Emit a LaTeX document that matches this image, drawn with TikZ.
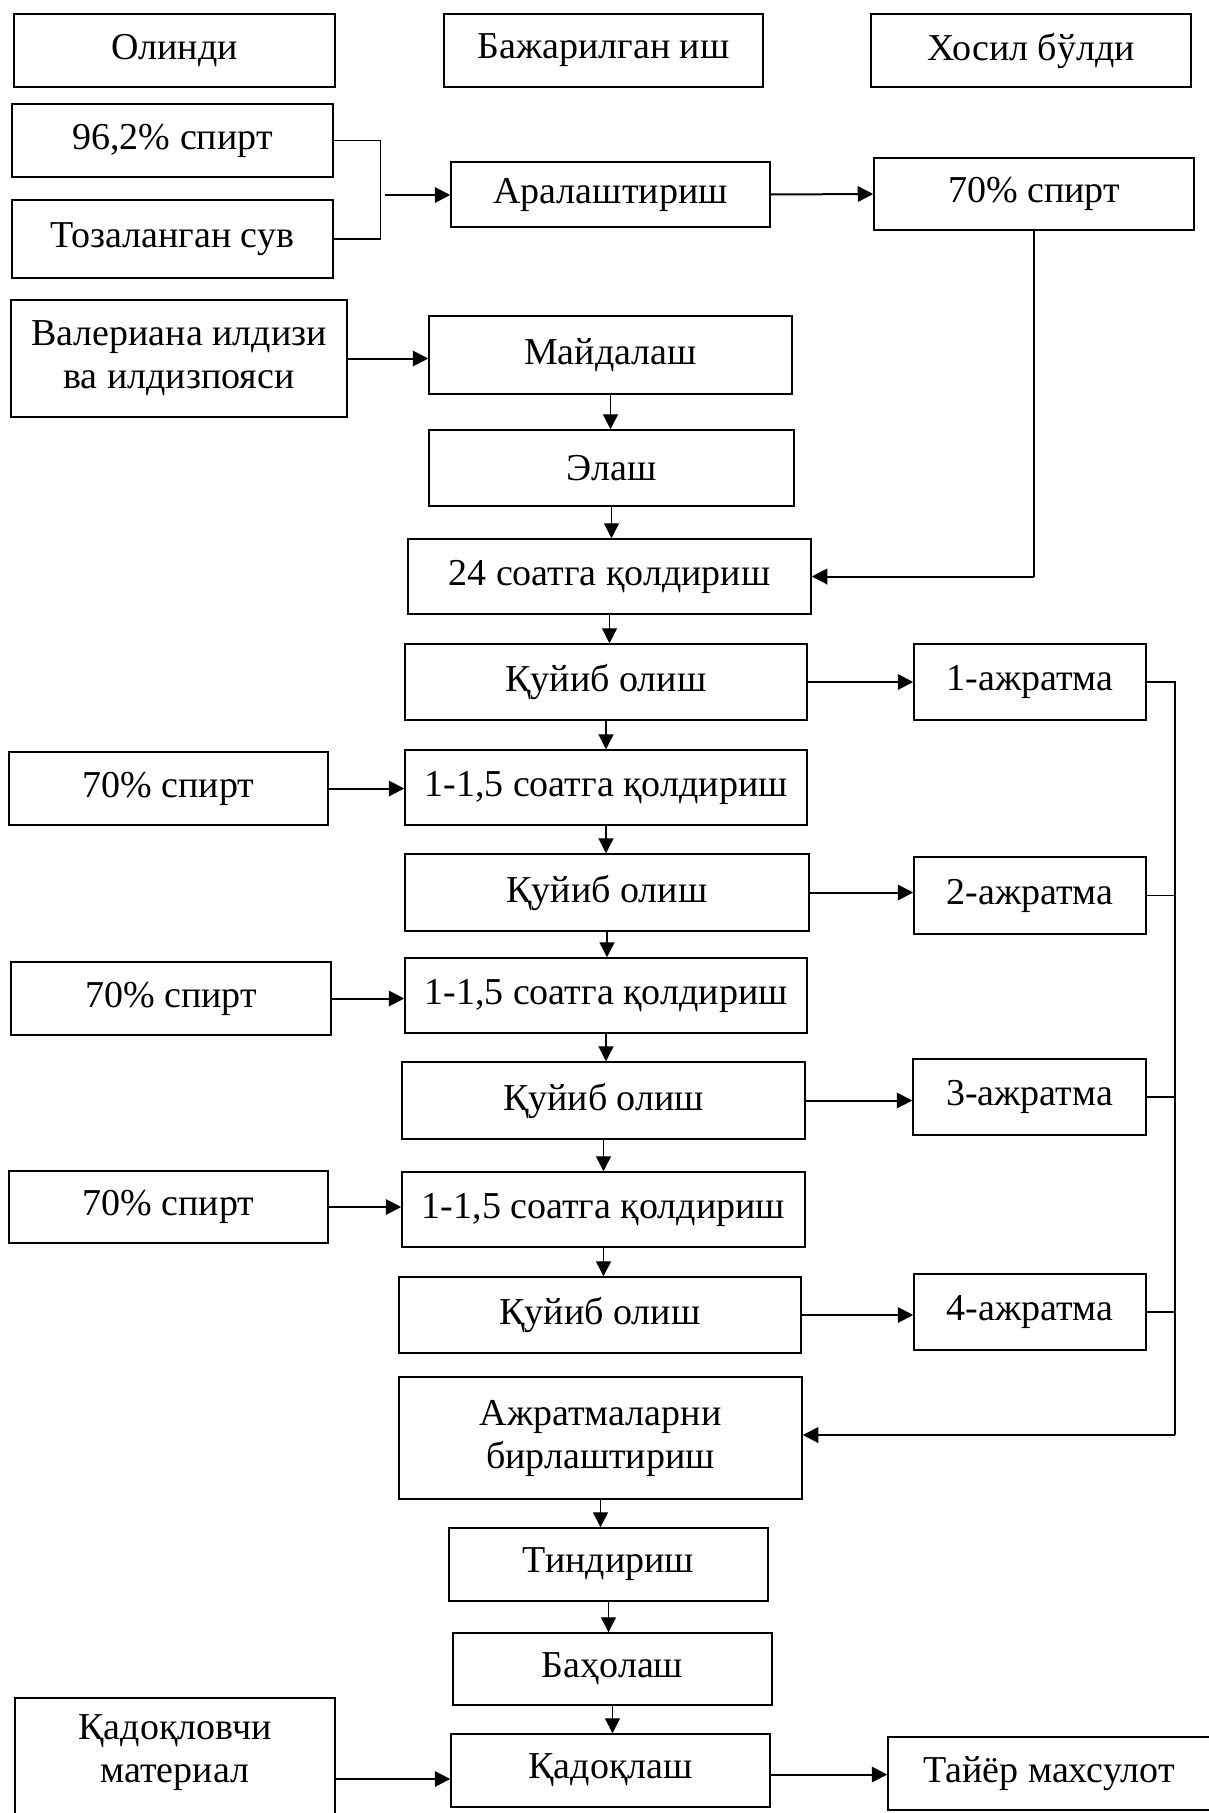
\documentclass[tikz,border=0pt]{standalone}
\usepackage{fontspec}
\setmainfont{Liberation Serif}
\usetikzlibrary{arrows.meta}
\newcommand\boxfont{\fontsize{15.2pt}{17.2pt}\selectfont}
\begin{document}
\begin{tikzpicture}[x=0.4pt, y=-0.4pt,
  box/.style={draw, line width=0.6pt, inner sep=0pt, align=center, font=\boxfont},
  arr/.style={-{Triangle[length=6pt,width=6pt]}, line width=0.55pt},
  harr/.style={-{Triangle[length=6.2pt,width=6.2pt]}, line width=0.8pt},
  ln/.style={line width=0.55pt}]
\useasboundingbox (0,0) rectangle (1208,1813);

% column headings
\node[box, minimum width=128.4pt, minimum height=29.2pt] (h1) at (174.5,50.5) {Олинди};
\node[box, minimum width=127.6pt, minimum height=29.2pt] (h2) at (603.5,50.5) {Бажарилган иш};
\node[box, minimum width=128pt,   minimum height=29.2pt] (h3) at (1031,50.5) {Хосил бўлди};

% preparing the 70% alcohol
\node[box, minimum width=128.4pt, minimum height=29.2pt] (a1) at (172.5,140.5) {96,2\% спирт};
\node[box, minimum width=128.4pt, minimum height=31.2pt] (a2) at (172.5,239) {Тозаланган сув};
\node[box, minimum width=127.6pt, minimum height=26pt] (mix) at (610.5,194.5) {Аралаштириш};
\node[box, minimum width=128pt, minimum height=28.8pt] (s70) at (1034,194) {70\% спирт};

% raw material line
\node[box, minimum width=134.4pt, minimum height=46.8pt] (val) at (179,358.5) {Валериана илдизи\\ва илдизпояси};
\node[box, minimum width=145.2pt, minimum height=31.2pt] (grind) at (610.5,355) {Майдалаш};
\node[box, minimum width=146pt, minimum height=30.4pt] (sieve) at (611.5,468) {Элаш};
\node[box, minimum width=161.2pt, minimum height=30pt] (st24) at (609.5,576.5) {24 соатга қолдириш};

% extraction cycles
\node[box, minimum width=160.8pt, minimum height=30.4pt] (q1) at (606,682) {Қуйиб олиш};
\node[box, minimum width=92.8pt, minimum height=30.4pt] (e1) at (1030,682) {1-ажратма};
\node[box, minimum width=127.6pt, minimum height=29.2pt] (r1) at (168.5,788.5) {70\% спирт};
\node[box, minimum width=160.8pt, minimum height=30pt] (w1) at (606,787.5) {1-1,5 соатга қолдириш};
\node[box, minimum width=161.6pt, minimum height=30.8pt] (q2) at (607,892.5) {Қуйиб олиш};
\node[box, minimum width=92.8pt, minimum height=30.8pt] (e2) at (1030,895.5) {2-ажратма};
\node[box, minimum width=128pt, minimum height=29.2pt] (r2) at (171,998.5) {70\% спирт};
\node[box, minimum width=160.8pt, minimum height=30pt] (w2) at (606,995.5) {1-1,5 соатга қолдириш};
\node[box, minimum width=161.2pt, minimum height=30.8pt] (q3) at (603.5,1100.5) {Қуйиб олиш};
\node[box, minimum width=93.2pt, minimum height=30.4pt] (e3) at (1029.5,1097) {3-ажратма};
\node[box, minimum width=127.6pt, minimum height=28.8pt] (r3) at (168.5,1207) {70\% спирт};
\node[box, minimum width=161.2pt, minimum height=30pt] (w3) at (603.5,1209.5) {1-1,5 соатга қолдириш};
\node[box, minimum width=160.8pt, minimum height=30.4pt] (q4) at (600,1315) {Қуйиб олиш};
\node[box, minimum width=92.8pt, minimum height=30.4pt] (e4) at (1030,1312) {4-ажратма};

% finishing
\node[box, minimum width=161.2pt, minimum height=48.8pt] (comb) at (600.5,1438) {Ажратмаларни\\бирлаштириш};
\node[box, minimum width=127.6pt, minimum height=29.2pt] (settle) at (608.5,1564.5) {Тиндириш};
\node[box, minimum width=127.6pt, minimum height=28.8pt] (eval) at (612.5,1669) {Баҳолаш};
\node[box, minimum width=127.6pt, minimum height=29.2pt] (pack) at (610.5,1770.5) {Қадоқлаш};
\node[box, minimum width=128pt, minimum height=56pt, anchor=north, text depth=15.3pt] (pm) at (175,1697) {Қадоқловчи\\материал};
\node[box, minimum width=128.8pt, minimum height=29.2pt] (prod) at (1049,1773.5) {Тайёр махсулот};

% mixing the alcohol
\coordinate (j1) at (385,195);
\draw[ln] (a1.east) -- ++(47,0) |- (a2.east);
\draw[harr] (j1) -- (j1 -| mix.west);
\draw[harr] (mix.east) -- (s70.west);
\coordinate (fb) at (s70.south |- st24.east);
\draw[ln] (s70.south) -- (fb);
\draw[harr] (fb) -- (st24.east);

% main line
\draw[harr] (val.east) -- (val.east -| grind.west);
\draw[arr] (grind.south) -- (grind.south |- sieve.north);
\draw[arr] (sieve.south) -- (sieve.south |- st24.north);
\draw[arr] (st24.south) -- (st24.south |- q1.north);
\draw[arr] (q1.south) -- (q1.south |- w1.north);
\draw[arr] (w1.south) -- (w1.south |- q2.north);
\draw[arr] (q2.south) -- (q2.south |- w2.north);
\draw[arr] (w2.south) -- (w2.south |- q3.north);
\draw[arr] (q3.south) -- (q3.south |- w3.north);
\draw[arr] (w3.south) -- (w3.south |- q4.north);
\draw[arr] (comb.south) -- (comb.south |- settle.north);
\draw[arr] (settle.south) -- (settle.south |- eval.north);
\draw[arr] (eval.south) -- (eval.south |- pack.north);

% alcohol added to each soaking
\draw[harr] (r1.east) -- (r1.east -| w1.west);
\draw[harr] (r2.east) -- (r2.east -| w2.west);
\draw[harr] (r3.east) -- (r3.east -| w3.west);

% extracts
\draw[harr] (q1.east) -- (q1.east -| e1.west);
\draw[harr] (q2.east) -- (q2.east -| e2.west);
\draw[harr] (q3.east) -- (q3.east -| e3.west);
\draw[harr] (q4.east) -- (q4.east -| e4.west);
\coordinate (bus) at (1175,1435);
\draw[ln] (e1.east) -- (e1.east -| bus) -- (bus);
\draw[ln] (e2.east) -- (e2.east -| bus);
\draw[ln] (e3.east) -- (e3.east -| bus);
\draw[ln] (e4.east) -- (e4.east -| bus);
\draw[harr] (bus) -- (bus -| comb.east);

% packing
\draw[harr] ([yshift=-3.4pt]pack.west -| pm.east) -- ([yshift=-3.4pt]pack.west);
\draw[harr] ([yshift=-1.6pt]pack.east) -- ([yshift=-1.6pt]pack.east -| prod.west);
\end{tikzpicture}
\end{document}
